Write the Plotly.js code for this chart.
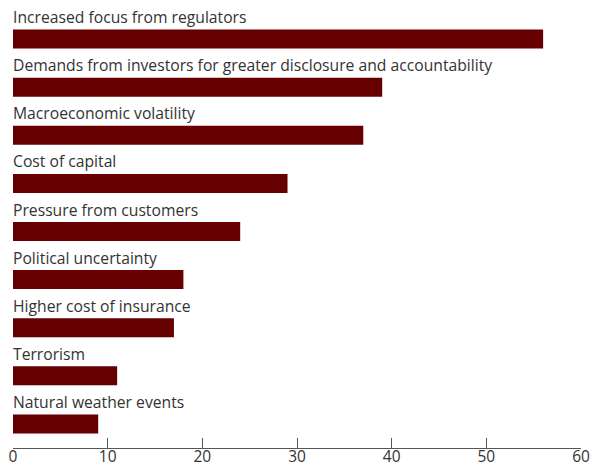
<!DOCTYPE html>
<html>
<head>
<meta charset="utf-8">
<script src="https://cdn.plot.ly/plotly-3.0.1.min.js"></script>
<style>html,body{margin:0;padding:0;background:#fff;}#chart{width:596px;height:467px;}</style>
</head>
<body>
<div id="chart"></div>
<script>
const categories = [
  "Increased focus from regulators",
  "Demands from investors for greater disclosure and accountability",
  "Macroeconomic volatility",
  "Cost of capital",
  "Pressure from customers",
  "Political uncertainty",
  "Higher cost of insurance",
  "Terrorism",
  "Natural weather events"
];
const values = [56, 39, 37, 29, 24, 18, 17, 11, 9];
const tickValues = [0, 10, 20, 30, 40, 50, 60];

const FONT = "Open Sans, sans-serif";
const TEXT = "#333333";

const trace = {
  type: "bar",
  orientation: "h",
  x: values,
  y: categories,
  width: 0.395,
  marker: {color: "#660000"},
  hoverinfo: "x+y"
};

const annotations = categories.map(c => ({
  x: 0, xref: "x", y: c, yref: "y",
  text: c, showarrow: false,
  xanchor: "left", yanchor: "middle",
  xshift: -2, yshift: 22,
  font: {family: FONT, size: 15.7, color: TEXT}
}));

const layout = {
  width: 596, height: 467,
  margin: {l: 13, r: 15, t: 15, b: 19},
  paper_bgcolor: "#fff", plot_bgcolor: "#fff",
  showlegend: false,
  xaxis: {
    range: [0, 60], tickvals: tickValues, ticktext: tickValues.map(String),
    ticks: "inside", ticklen: 10, tickwidth: 1, tickcolor: "#555",
    showline: true, linecolor: "#555", linewidth: 1,
    showgrid: false, zeroline: false, fixedrange: true,
    ticklabelstandoff: -6,
    tickfont: {family: FONT, size: 15.5, color: TEXT}
  },
  yaxis: {
    type: "category", range: [categories.length - 0.5, -0.5],
    showticklabels: false, showgrid: false, zeroline: false, ticks: "",
    showline: false
  },
  annotations: annotations
};

Plotly.newPlot("chart", [trace], layout, {displayModeBar: false, staticPlot: true});
</script>
</body>
</html>
